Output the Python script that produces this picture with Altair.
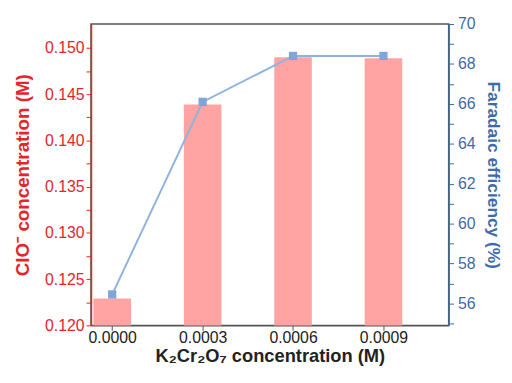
import altair as alt
import pandas as pd

conc = [0.0, 0.0003, 0.0006, 0.0009]
clo = [0.1229, 0.1439, 0.1490, 0.1489]
fe = [56.45, 66.1, 68.4, 68.4]

df = pd.DataFrame({"conc": conc, "clo": clo, "fe": fe})

RED = "#e3262c"
BLUE = "#3d6ca8"
BAR = "#ffa3a3"
LINE = "#8fb3dc"
MARK = "#7fa7d6"
FONT = "Liberation Sans"

left_vals = [round(0.120 + 0.0025 * i, 4) for i in range(13)]
right_vals = list(range(55, 71))

x = alt.X(
    "conc:Q",
    scale=alt.Scale(domain=[-0.000054, 0.0011], nice=False, zero=False),
    axis=alt.Axis(
        values=conc, format=".4f", title="K₂Cr₂O₇ concentration (M)",
        domainColor="#555555", domainWidth=1.5, tickColor="#555555",
        tickSize=5, labelFontSize=16, labelColor="#222222", labelPadding=-1,
        titleFontSize=18.5, titleFontWeight="bold", titleColor="#222222",
        titlePadding=2, grid=False, labelFont=FONT, titleFont=FONT,
    ),
)

bars = alt.Chart(df).mark_bar(color=BAR, size=38, clip=True).encode(
    x=x,
    y=alt.Y(
        "clo:Q",
        scale=alt.Scale(domain=[0.120, 0.1526], nice=False, zero=False),
        axis=alt.Axis(
            values=left_vals,
            labelExpr="abs(datum.value*200 - round(datum.value*200)) < 0.001 ? format(datum.value, '.3f') : ''",
            title="ClO⁻ concentration (M)", orient="left",
            domainColor=RED, domainWidth=1.5, tickColor=RED, tickSize=5,
            labelColor=RED, labelFontSize=16, labelPadding=2,
            titleColor=RED, titleFontSize=19, titleFontWeight="bold",
            titlePadding=12, grid=False, labelFont=FONT, titleFont=FONT,
        ),
    ),
)

yfe = alt.Y(
    "fe:Q",
    scale=alt.Scale(domain=[54.9, 70], nice=False, zero=False),
    axis=alt.Axis(
        values=right_vals,
        labelExpr="datum.value % 2 == 0 ? datum.value : ''",
        title="Faradaic efficiency (%)", orient="right",
        domainColor=BLUE, domainWidth=1.5, tickColor=BLUE, tickSize=5,
        labelColor=BLUE, labelFontSize=16, labelPadding=4,
        titleColor=BLUE, titleFontSize=17.5, titleFontWeight="bold",
        titlePadding=9, grid=False, labelFont=FONT, titleFont=FONT,
    ),
)

line = alt.Chart(df).mark_line(color=LINE, strokeWidth=2).encode(x=x, y=yfe)
pts = alt.Chart(df).mark_point(shape="square", filled=True, size=70, color=MARK, opacity=1).encode(x=x, y=yfe)

right = alt.layer(line, pts)

chart = alt.layer(bars, right).resolve_scale(y="independent").properties(
    width=362, height=305,
    autosize=alt.AutoSizeParams(type="none"),
    padding={"left": 84, "top": 14, "right": 56, "bottom": 48},
).configure_view(stroke="#555555", strokeWidth=1.5)

chart.save("out.html", embed_options={"renderer": "svg", "actions": False})
